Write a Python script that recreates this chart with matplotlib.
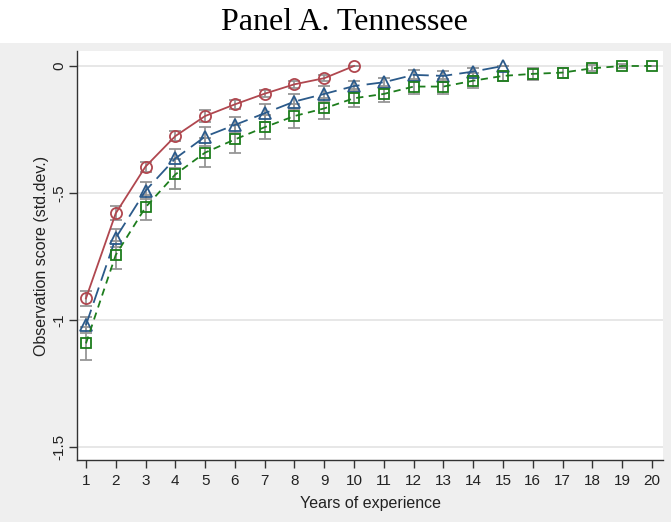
import matplotlib
matplotlib.use("Agg")
import matplotlib.pyplot as plt
from matplotlib.patches import Rectangle

# Years of experience
years = list(range(1, 21))

# Series estimates (std. dev.) and half-widths of confidence intervals
circle_vals = [-0.915, -0.580, -0.396, -0.276, -0.197, -0.151, -0.109, -0.072, -0.048, 0.0]
circle_err = [0.028, 0.028, 0.020, 0.020, 0.022, 0.018, 0.015, 0.014, 0.013, 0.0]

triangle_vals = [-1.020, -0.677, -0.491, -0.364, -0.278, -0.232, -0.186, -0.140, -0.110,
                 -0.079, -0.064, -0.035, -0.039, -0.022, 0.0]
triangle_err = [0.030, 0.035, 0.034, 0.037, 0.036, 0.032, 0.035, 0.028, 0.030,
                0.021, 0.018, 0.020, 0.020, 0.016, 0.0]

square_vals = [-1.092, -0.744, -0.556, -0.427, -0.341, -0.289, -0.241, -0.197, -0.167,
               -0.127, -0.110, -0.081, -0.081, -0.058, -0.039, -0.031, -0.026, -0.009, 0.0, 0.0]
square_err = [0.065, 0.055, 0.050, 0.059, 0.058, 0.055, 0.047, 0.047, 0.040,
              0.035, 0.030, 0.031, 0.031, 0.030, 0.020, 0.024, 0.020, 0.012, 0.008, 0.0]

y_ticks = [0, -0.5, -1, -1.5]
y_ticklabels = ["0", "-.5", "-1", "-1.5"]

W, H = 671, 522
fig = plt.figure(figsize=(W / 100, H / 100), dpi=100, facecolor="white")

# grey graph region below the title
bg = Rectangle((0, 0), 1, (H - 43) / H, transform=fig.transFigure,
               facecolor="#efefef", edgecolor="none", zorder=-10)
fig.add_artist(bg)

ax = fig.add_axes([77 / W, (H - 460) / H, (663 - 77) / W, (460 - 51) / H])
ax.set_zorder(1)
ax.set_facecolor("white")

sans = ["Liberation Sans", "DejaVu Sans"]

red = "#b0474f"
blue = "#2b5a8a"
green = "#1d7d1d"
err_col = "#969696"

def series(vals, err, color, marker, ls, ms, dashes=None):
    x = years[:len(vals)]
    ax.errorbar(x, vals, yerr=err, fmt="none", ecolor=err_col, elinewidth=1.3,
                capsize=4.5, capthick=1.3, zorder=2)
    kw = dict(color=color, lw=1.3, marker=marker, ms=ms, mfc="none",
              mec=color, mew=1.3, zorder=3)
    line, = ax.plot(x, vals, linestyle=ls, **kw)
    if dashes is not None:
        line.set_dashes(dashes)

series(circle_vals, circle_err, red, "o", "-", 8)
series(triangle_vals, triangle_err, blue, "^", "--", 9, dashes=(9, 4))
series(square_vals, square_err, green, "s", "--", 7.5, dashes=(4, 3))

ax.set_xlim(0.70, 20.37)
ax.set_ylim(-1.551, 0.059)

ax.set_yticks(y_ticks)
ax.set_yticklabels(y_ticklabels, rotation=90, va="center", family=sans, fontsize=11)
ax.set_xticks(years)
ax.set_xticklabels([str(y) for y in years], family=sans, fontsize=11)

ax.yaxis.grid(True, color="#e3e3e3", lw=1.2)
ax.set_axisbelow(True)

for s in ["top", "right"]:
    ax.spines[s].set_visible(False)
for s in ["left", "bottom"]:
    ax.spines[s].set_color("#333333")
    ax.spines[s].set_linewidth(1.0)

ax.tick_params(axis="both", length=6, width=1.0, color="#333333", labelcolor="#222222")
ax.tick_params(axis="x", pad=4)
ax.tick_params(axis="y", pad=2)

ax.set_xlabel("Years of experience", family=sans, fontsize=11.5, color="#222222", labelpad=6)
ax.set_ylabel("Observation score (std.dev.)", family=sans, fontsize=11.5, color="#222222", labelpad=2)

fig.text(344 / W, 1 - 22 / H, "Panel A. Tennessee", ha="center", va="center",
         family=["Liberation Serif", "DejaVu Serif"], fontsize=23, color="black")

fig.savefig("out.png", dpi=100, facecolor=fig.get_facecolor())
